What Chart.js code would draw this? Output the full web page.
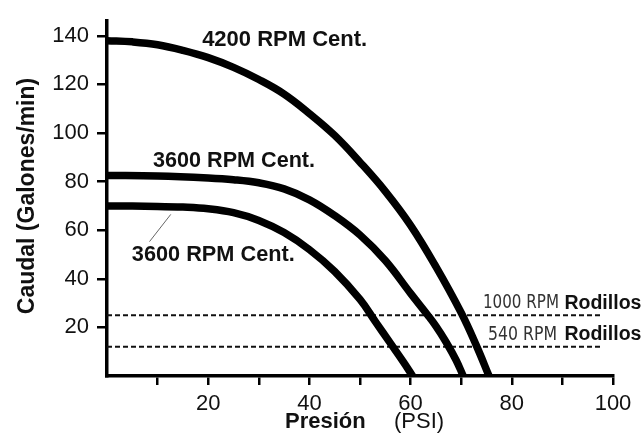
<!DOCTYPE html>
<html lang="es">
<head>
    <meta charset="UTF-8">
    <title>Caudal vs Presión</title>
    <script src="https://cdn.jsdelivr.net/npm/chart.js"></script>
    <style>
        body {
            margin: 0;
            padding: 0;
            background: #fff;
        }

        .chart-box {
            width: 644px;
            height: 438px;
        }
    </style>
</head>
<body>

    <div class="chart-box">
        <canvas id="pumpChart"></canvas>
    </div>

    <script>
        // Pressure (PSI) / flow (gal/min)
        const pressure4200 = [0, 5, 10, 15, 20, 25, 30, 35, 40, 45, 50, 55, 60, 65, 70, 73, 75.5];
        const flow4200 = [138, 137.5, 136.3, 134, 131, 127, 122, 116, 108, 99, 88, 76, 62, 45, 26, 12.5, 0];

        const pressure3600a = [0, 10, 20, 25, 30, 35, 40, 45, 50, 55, 60, 63.4, 65, 67, 69, 70.4];
        const flow3600a = [82.5, 82.3, 81.5, 80.8, 79.5, 77, 72.5, 66, 58, 47.5, 34, 25, 20.5, 14, 6.5, 0];

        const pressure3600b = [0, 10, 15, 20, 25, 30, 35, 40, 45, 50, 53, 56, 58.5, 60.4];
        const flow3600b = [70, 69.8, 69.5, 68.8, 67.2, 64, 59, 52, 43, 31.5, 22.5, 13.5, 6, 0];

        // Roller pumps: constant flow lines
        const rollerNames = ['1000 RPM', '540 RPM'];
        const rollerFlow = [25, 12];
        const rollerRange = [0, 98];

        // Axis ticks
        const xTickValues = [10, 20, 30, 40, 50, 60, 70, 80, 90, 100];
        const xTickLabels = ['', '20', '', '40', '', '60', '', '80', '', '100'];
        const yTickValues = [20, 40, 60, 80, 100, 120, 140];

        const toPoints = (xs, ys) => xs.map((v, i) => ({ x: v, y: ys[i] }));

        const curveStyle = {
            borderColor: '#000',
            borderWidth: 7.5,
            pointRadius: 0,
            tension: 0.4,
            fill: false
        };

        const datasets = [
            Object.assign({ label: '4200 RPM Cent.', data: toPoints(pressure4200, flow4200) }, curveStyle),
            Object.assign({ label: '3600 RPM Cent.', data: toPoints(pressure3600a, flow3600a) }, curveStyle),
            Object.assign({ label: '3600 RPM Cent.', data: toPoints(pressure3600b, flow3600b) }, curveStyle)
        ];

        rollerFlow.forEach((q, i) => {
            datasets.push({
                label: rollerNames[i] + ' Rodillos',
                data: rollerRange.map(p => ({ x: p, y: q })),
                borderColor: '#111',
                borderWidth: 2,
                borderDash: [5, 3],
                pointRadius: 0,
                fill: false
            });
        });

        // Text drawn onto the plot
        const textPlugin = {
            id: 'plotText',
            afterDatasetsDraw(chart) {
                const { ctx } = chart;
                const xs = chart.scales.x;
                const ys = chart.scales.y;
                const px = v => xs.getPixelForValue(v);
                const py = v => ys.getPixelForValue(v);

                ctx.save();
                ctx.fillStyle = '#111';
                ctx.textBaseline = 'middle';
                ctx.textAlign = 'left';

                // curve names
                ctx.font = 'bold 22px "Liberation Sans", Arial, sans-serif';
                ctx.fillText(datasets[0].label, px(18.8), py(138.2), 165);
                ctx.fillText(datasets[1].label, px(9.1), py(88.6), 162);
                ctx.fillText(datasets[2].label, px(4.9), py(49.8), 163);

                // leader line to the lower curve
                ctx.strokeStyle = '#666';
                ctx.lineWidth = 1;
                ctx.beginPath();
                ctx.moveTo(px(8.4), py(55.3));
                ctx.lineTo(px(12.6), py(66.5));
                ctx.stroke();

                // roller labels
                const rollerLeft = [74.3, 75.3];
                const rollerWidth = [76, 69];
                rollerFlow.forEach((q, i) => {
                    const yy = py(q + 4.9);
                    const xx = px(rollerLeft[i]);
                    ctx.fillStyle = '#333';
                    ctx.font = '19px "Liberation Sans Narrow", "DejaVu Sans Condensed", "Liberation Sans", sans-serif';
                    ctx.fillText(rollerNames[i], xx, yy, rollerWidth[i]);
                    ctx.fillStyle = '#111';
                    ctx.font = 'bold 20px "Liberation Sans", Arial, sans-serif';
                    ctx.fillText('Rodillos', px(90.4), yy, 77);
                });

                // axis titles
                ctx.fillStyle = '#111';
                ctx.font = 'bold 22px "Liberation Sans", Arial, sans-serif';
                ctx.fillText('Presión', 285, 422);
                ctx.font = '22px "Liberation Sans", Arial, sans-serif';
                ctx.fillText('(PSI)', 394, 422);

                ctx.translate(28, 196);
                ctx.rotate(-Math.PI / 2);
                ctx.textAlign = 'center';
                ctx.font = 'bold 23px "Liberation Sans", Arial, sans-serif';
                ctx.fillText('Caudal (Galones/min)', 0, 0);

                ctx.restore();
            }
        };

        const tickFont = { family: '"Liberation Sans", Arial, sans-serif', size: 22 };

        new Chart(document.getElementById('pumpChart').getContext('2d'), {
            type: 'line',
            data: { datasets: datasets },
            options: {
                responsive: true,
                maintainAspectRatio: false,
                animation: false,
                events: [],
                layout: {
                    padding: { top: 15, right: 31, left: 0, bottom: 0 }
                },
                plugins: {
                    legend: { display: false },
                    tooltip: { enabled: false }
                },
                scales: {
                    x: {
                        type: 'linear',
                        min: 0,
                        max: 100,
                        afterBuildTicks: axis => {
                            axis.ticks = xTickValues.map(v => ({ value: v }));
                        },
                        afterFit: axis => { axis.height = 62; },
                        ticks: {
                            color: '#111',
                            font: tickFont,
                            padding: 6,
                            maxRotation: 0,
                            autoSkip: false,
                            callback: (value, index) => xTickLabels[index]
                        },
                        grid: {
                            drawOnChartArea: false,
                            drawTicks: true,
                            tickLength: 9,
                            color: '#000',
                            lineWidth: 2.5
                        },
                        border: { color: '#000', width: 3.5 }
                    },
                    y: {
                        type: 'linear',
                        min: 0,
                        max: 146,
                        afterBuildTicks: axis => {
                            axis.ticks = yTickValues.map(v => ({ value: v }));
                        },
                        afterFit: axis => { axis.width = 107; },
                        ticks: {
                            color: '#111',
                            font: tickFont,
                            padding: 8,
                            autoSkip: false
                        },
                        grid: {
                            drawOnChartArea: false,
                            drawTicks: true,
                            tickLength: 10,
                            color: '#000',
                            lineWidth: 2.5
                        },
                        border: { color: '#000', width: 3.5 }
                    }
                }
            },
            plugins: [textPlugin]
        });
    </script>
</body>
</html>
